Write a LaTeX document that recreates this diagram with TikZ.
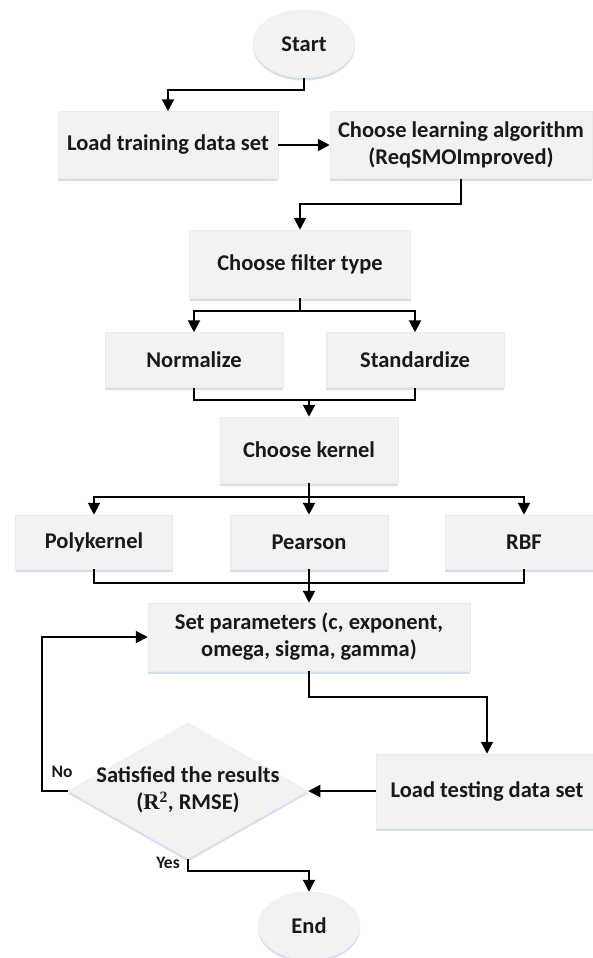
\documentclass[tikz,border=0pt]{standalone}
\usepackage{fontspec}
\setmainfont{Carlito}
\newfontfamily\serifR{Liberation Serif}
\usetikzlibrary{shapes.geometric,arrows.meta,shadows}
\begin{document}
\begin{tikzpicture}[x=1pt,y=-1pt,line width=2pt,
  every node/.style={font=\bfseries\fontsize{22.5}{27}\selectfont,text=black!90,inner sep=0pt,align=center},
  flow/.style={draw=black!8,line width=0.5pt,fill={rgb,255:red,242;green,242;blue,242},
    drop shadow={shadow xshift=0pt,shadow yshift=-2.5pt,fill={rgb,255:red,205;green,220;blue,240},opacity=0.9}},
  box/.style={flow,rectangle,minimum width=#1,minimum height=67},
  term/.style={flow,ellipse,minimum width=102,minimum height=68},
  cond/.style={flow,diamond,minimum width=240,minimum height=136},
  tag/.style={font=\bfseries\fontsize{17.5}{20}\selectfont},
  arr/.style={-{Triangle[width=12pt,length=12pt]}}]
\useasboundingbox (0,0) rectangle (592,958);
\node[term] (start) at (304,44) {Start};
\node[box=220] (load) at (168,145) {Load training data set};
\node[box=262] (algo) at (461,145) {Choose learning algorithm\\(ReqSMOImproved)};
\node[box=221,minimum height=68] (filter) at (300,264) {Choose filter type};
\node[box=178,minimum height=55] (norm) at (194,360) {Normalize};
\node[box=178,minimum height=55] (std) at (415,360) {Standardize};
\node[box=178,minimum height=66] (kernel) at (309,450) {Choose kernel};
\node[box=157,minimum height=54] (poly) at (94,542) {Polykernel};
\node[box=158,minimum height=54] (pear) at (309,542) {Pearson};
\node[box=158,minimum height=54] (rbf) at (524,542) {RBF};
\node[box=322,minimum height=68] (param) at (309,637) {Set parameters (c, exponent,\\omega, sigma, gamma)};
\node[box=222,minimum height=74] (test) at (487,791) {Load testing data set};
\node[cond] (dec) at (188,791) {\makebox[0pt]{\begin{tabular}{@{}c@{}}Satisfied the results\\({\serifR R\textsuperscript{2}}, RMSE)\end{tabular}}};
\node[term] (end) at (309,926) {End};
\node[tag] (no) at (62,772) {No};
\node[tag] (yes) at (168,863) {Yes};
\coordinate (join1) at (309,400);
\coordinate (join2) at (309,583);
\draw[arr] (start.south) -- ++(0,12) -| (load.north);
\draw[arr] (load.east) -- (algo.west);
\draw[arr] (algo.south) -- ++(0,25) -| (filter.north);
\draw[arr] (filter.south) -- ++(0,13) -| (norm.north);
\draw[arr] (filter.south) -- ++(0,13) -| (std.north);
\draw (norm.south) |- (join1) -| (std.south);
\draw[arr] (join1) -- (kernel.north);
\draw[arr] (kernel.south) -- ++(0,14) -| (poly.north);
\draw[arr] (kernel.south) -- (pear.north);
\draw[arr] (kernel.south) -- ++(0,14) -| (rbf.north);
\draw (poly.south) |- (join2) -| (rbf.south);
\draw[arr] (pear.south) -- (param.north);
\draw[arr] (param.south) -- ++(0,26) -| (test.north);
\draw[arr] (test.west) -- (dec.east);
\draw[arr] (dec.west) -- ++(-26,0) |- (param.west);
\draw[arr] (dec.south) -- ++(0,12) -| (end.north);
\end{tikzpicture}
\end{document}
